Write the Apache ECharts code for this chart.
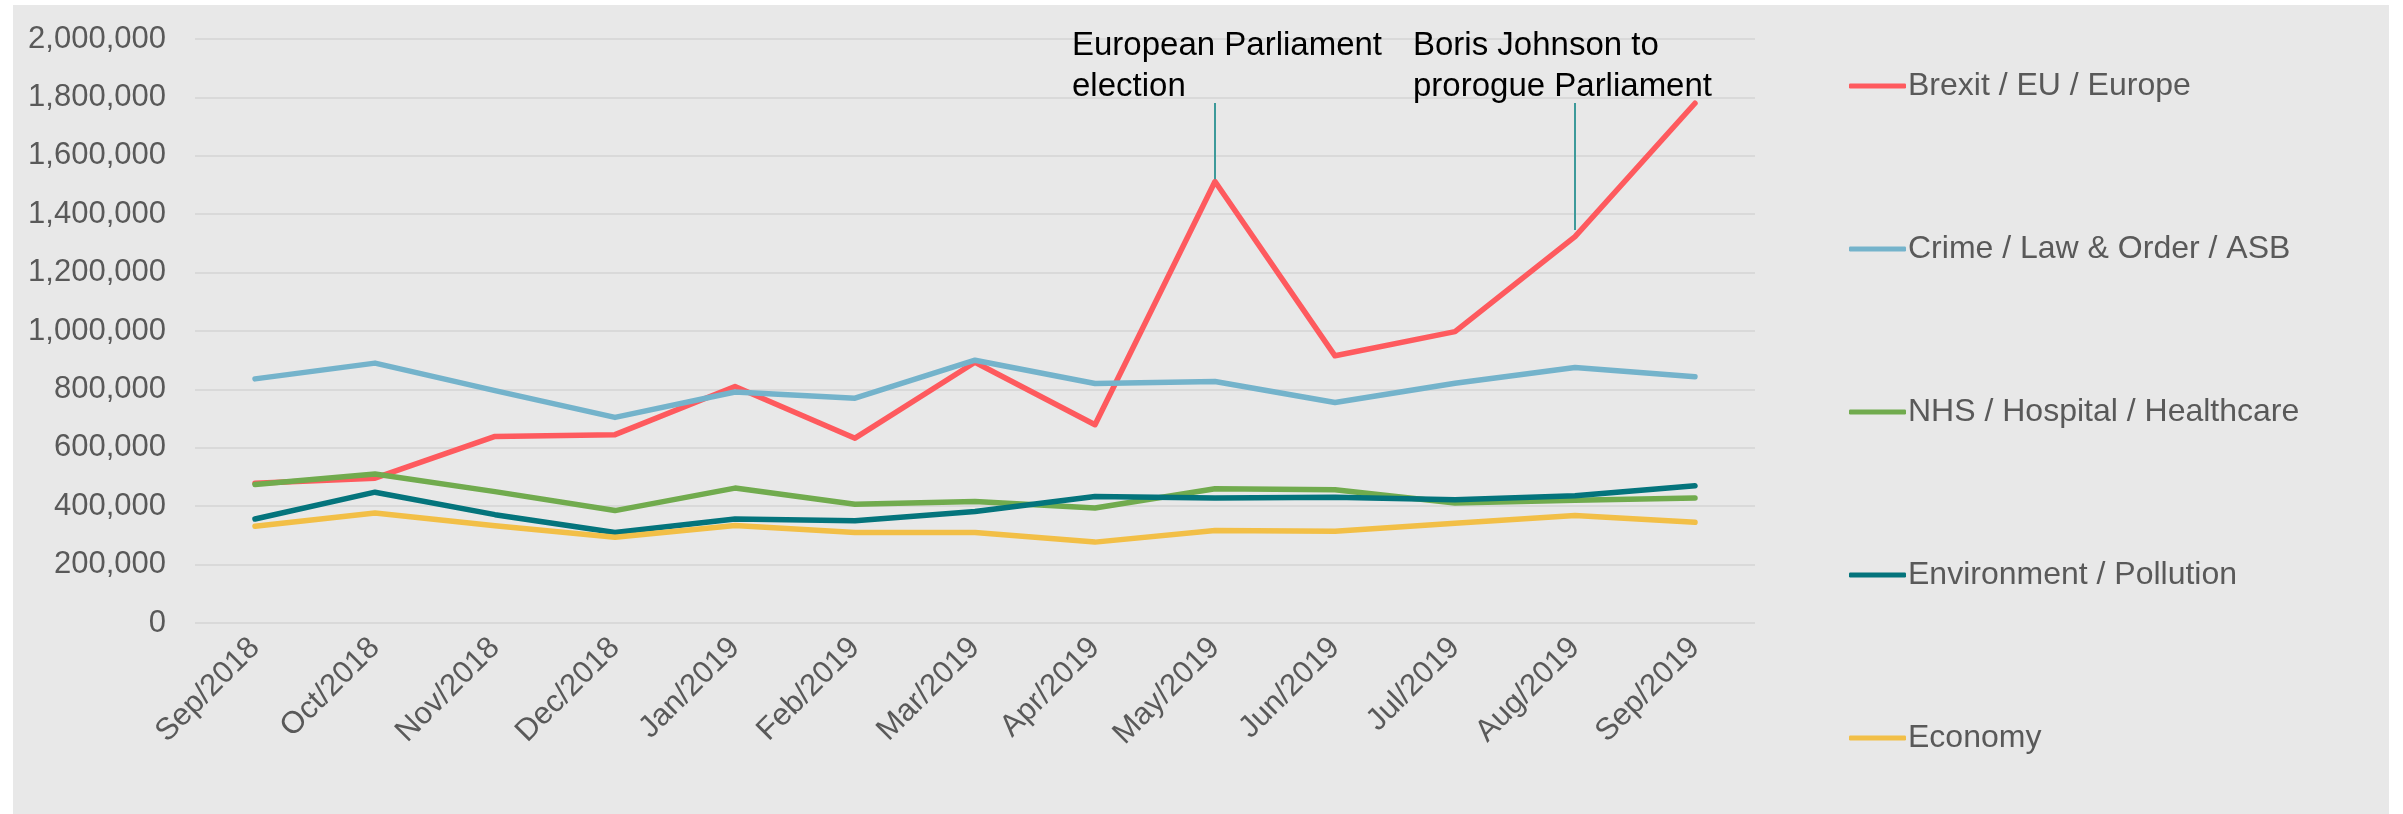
<!DOCTYPE html>
<html>
<head>
<meta charset="utf-8">
<title>Mentions by topic</title>
<script src="https://cdn.jsdelivr.net/npm/echarts@6/dist/echarts.min.js"></script>
<style>
  html, body { margin: 0; padding: 0; background: #fff; }
  #chart { position: absolute; left: 13px; top: 5px; width: 2376px; height: 809px; }
</style>
</head>
<body>
<div id="chart"></div>
<script>
// categories
const months = ['Sep/2018', 'Oct/2018', 'Nov/2018', 'Dec/2018', 'Jan/2019', 'Feb/2019', 'Mar/2019',
  'Apr/2019', 'May/2019', 'Jun/2019', 'Jul/2019', 'Aug/2019', 'Sep/2019'];

// series values
const brexit = [479000, 496000, 639000, 645000, 810000, 633000, 893000, 679000, 1512000, 915000, 998000, 1323000, 1780000];
const crime = [836000, 890000, 796000, 704000, 791000, 770000, 900000, 820000, 827000, 755000, 821000, 875000, 843000];
const nhs = [474000, 510000, 450000, 385000, 462000, 407000, 416000, 394000, 460000, 456000, 411000, 420000, 428000];
const environment = [356000, 448000, 371000, 310000, 356000, 350000, 382000, 433000, 428000, 431000, 422000, 436000, 470000];
const economy = [331000, 377000, 333000, 294000, 334000, 310000, 310000, 277000, 317000, 314000, 342000, 368000, 345000];

const seriesNames = ['Brexit / EU / Europe', 'Crime / Law & Order / ASB', 'NHS / Hospital / Healthcare',
  'Environment / Pollution', 'Economy'];
const seriesData = [brexit, crime, nhs, environment, economy];
const colors = ['#fe5a5e', '#74b3cb', '#71ab4e', '#04747c', '#f2bf47'];

// annotations
const annotMonths = ['May/2019', 'Aug/2019'];
const annotText = ['European Parliament\nelection', 'Boris Johnson to\nprorogue Parliament'];
const annotFrom = [1520000, 1346000];
const annotTo = 1781000;

const chart = echarts.init(document.getElementById('chart'));
const font = '"Liberation Sans", Arial, sans-serif';

const series = seriesNames.map((name, i) => ({
  name: name,
  type: 'line',
  data: seriesData[i],
  symbol: 'none',
  smooth: false,
  lineStyle: { color: colors[i], width: 5.5, cap: 'round', join: 'round' },
  itemStyle: { color: colors[i] },
  emphasis: { disabled: true }
}));

// vertical callout lines from the Brexit points
series[0].markLine = {
  silent: true,
  symbol: 'none',
  label: { show: false },
  lineStyle: { color: '#3d9a9a', width: 2, type: 'solid' },
  data: annotMonths.map((m, i) => [
    { coord: [m, annotFrom[i]] },
    { coord: [m, annotTo] }
  ])
};

const option = {
  backgroundColor: '#e8e8e8',
  animation: false,
  grid: { left: 182, top: 34, width: 1560, height: 584 },
  legend: {
    orient: 'vertical',
    left: 1831,
    top: 56,
    itemGap: 123,
    itemWidth: 57,
    itemHeight: 5,
    icon: 'roundRect',
    data: seriesNames,
    textStyle: { color: '#595959', fontSize: 32, fontFamily: font, lineHeight: 40, padding: [0, 0, 0, -3] }
  },
  xAxis: {
    type: 'category',
    data: months,
    boundaryGap: true,
    axisLine: { show: false },
    axisTick: { show: false },
    axisLabel: { rotate: 45, fontSize: 31, color: '#595959', fontFamily: font, margin: 20, interval: 0 }
  },
  yAxis: {
    type: 'value',
    min: 0,
    max: 2000000,
    interval: 200000,
    axisLine: { show: false },
    axisTick: { show: false },
    splitLine: { lineStyle: { color: '#d9d9d9', width: 2 } },
    axisLabel: {
      fontSize: 31, color: '#595959', fontFamily: font, margin: 29,
      formatter: v => v.toLocaleString('en-US')
    }
  },
  series: series
};

chart.setOption(option);

// callout texts placed relative to their month
const textOffsets = [-143, -162];
const graphics = annotMonths.map((m, i) => {
  const px = chart.convertToPixel({ seriesIndex: 0 }, [m, annotTo]);
  return {
    type: 'text',
    left: px[0] + textOffsets[i],
    top: 20,
    silent: true,
    style: { text: annotText[i], fill: '#000', font: '33px ' + font, lineHeight: 41 }
  };
});
chart.setOption({ graphic: graphics });
</script>
</body>
</html>
